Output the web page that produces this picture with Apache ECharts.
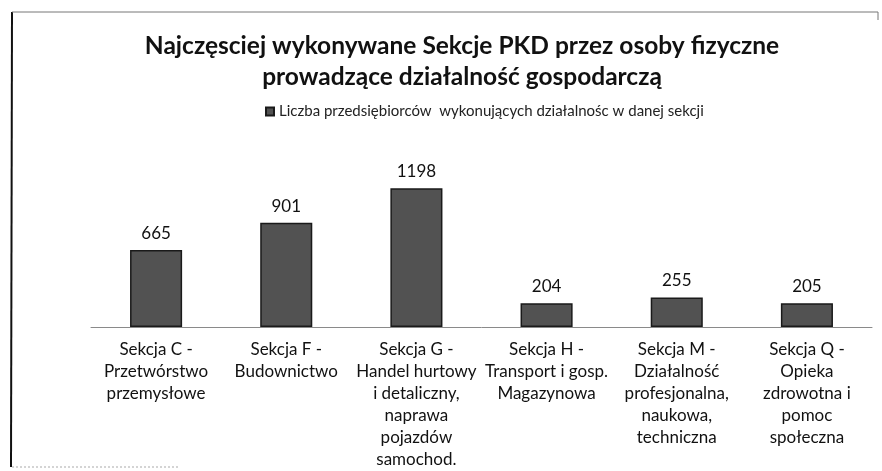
<!DOCTYPE html>
<html>
<head>
<meta charset="utf-8">
<script src="https://cdn.jsdelivr.net/npm/echarts@6/dist/echarts.min.js"></script>
<style>
  html, body { margin: 0; padding: 0; background: #fff; }
  #chart { width: 882px; height: 471px; }
</style>
</head>
<body>
<div id="chart"></div>
<script>
// dane z wykresu
let sekcje = [
    'Sekcja C -\nPrzetwórstwo\nprzemysłowe',
    'Sekcja F -\nBudownictwo',
    'Sekcja G -\nHandel hurtowy\ni detaliczny,\nnaprawa\npojazdów\nsamochod.',
    'Sekcja H -\nTransport i gosp.\nMagazynowa',
    'Sekcja M -\nDziałalność\nprofesjonalna,\nnaukowa,\ntechniczna',
    'Sekcja Q -\nOpieka\nzdrowotna i\npomoc\nspołeczna'
];
let liczba = [665, 901, 1198, 204, 255, 205];
let nazwaSerii = 'Liczba przedsiębiorców  wykonujących działalnośc w danej sekcji';

let font = 'Lato, "Open Sans", sans-serif';

let option = {
    animation: false,
    backgroundColor: '#fff',
    title: {
        text: 'Najczęsciej wykonywane Sekcje PKD przez osoby fizyczne\nprowadzące działalność gospodarczą',
        left: 457,
        textAlign: 'center',
        top: 26,
        textStyle: {
            fontFamily: font,
            fontSize: 24.5,
            fontWeight: 'bold',
            lineHeight: 31,
            color: '#111'
        }
    },
    legend: {
        data: [nazwaSerii],
        left: 260,
        top: 99,
        itemWidth: 8,
        itemHeight: 8,
        itemGap: 4,
        icon: 'rect',
        textStyle: { fontFamily: font, fontSize: 15, color: '#222' }
    },
    grid: { left: 91, right: 10, top: 188, bottom: 144 },
    xAxis: {
        type: 'category',
        data: sekcje,
        axisTick: { show: false },
        axisLine: { lineStyle: { color: '#8a8a8a', width: 1 } },
        axisLabel: {
            interval: 0,
            margin: 12,
            fontFamily: font,
            fontSize: 17,
            lineHeight: 22,
            color: '#111'
        }
    },
    yAxis: {
        type: 'value',
        min: 0,
        max: 1200,
        show: false,
        splitLine: { show: false }
    },
    series: [{
        name: nazwaSerii,
        type: 'bar',
        barWidth: '40%',
        data: liczba,
        itemStyle: {
            color: '#525252',
            borderColor: '#1a1a1a',
            borderWidth: 1.5
        },
        label: {
            show: true,
            position: 'top',
            distance: 8,
            fontFamily: font,
            fontSize: 17,
            color: '#111'
        }
    }],
    // ramka skanu
    graphic: [
        { type: 'line', shape: { x1: 12, y1: 12, x2: 11, y2: 467 }, style: { stroke: '#111', lineWidth: 2 } },
        { type: 'line', shape: { x1: 12, y1: 12, x2: 878, y2: 12 }, style: { stroke: '#777', lineWidth: 1 } },
        { type: 'line', shape: { x1: 878, y1: 12, x2: 878, y2: 20 }, style: { stroke: '#777', lineWidth: 1 } },
        { type: 'line', shape: { x1: 12, y1: 467, x2: 180, y2: 467 }, style: { stroke: '#aaa', lineWidth: 1, lineDash: [2, 2] } }
    ]
};

let chart = echarts.init(document.getElementById('chart'));
chart.setOption(option);
</script>
</body>
</html>
